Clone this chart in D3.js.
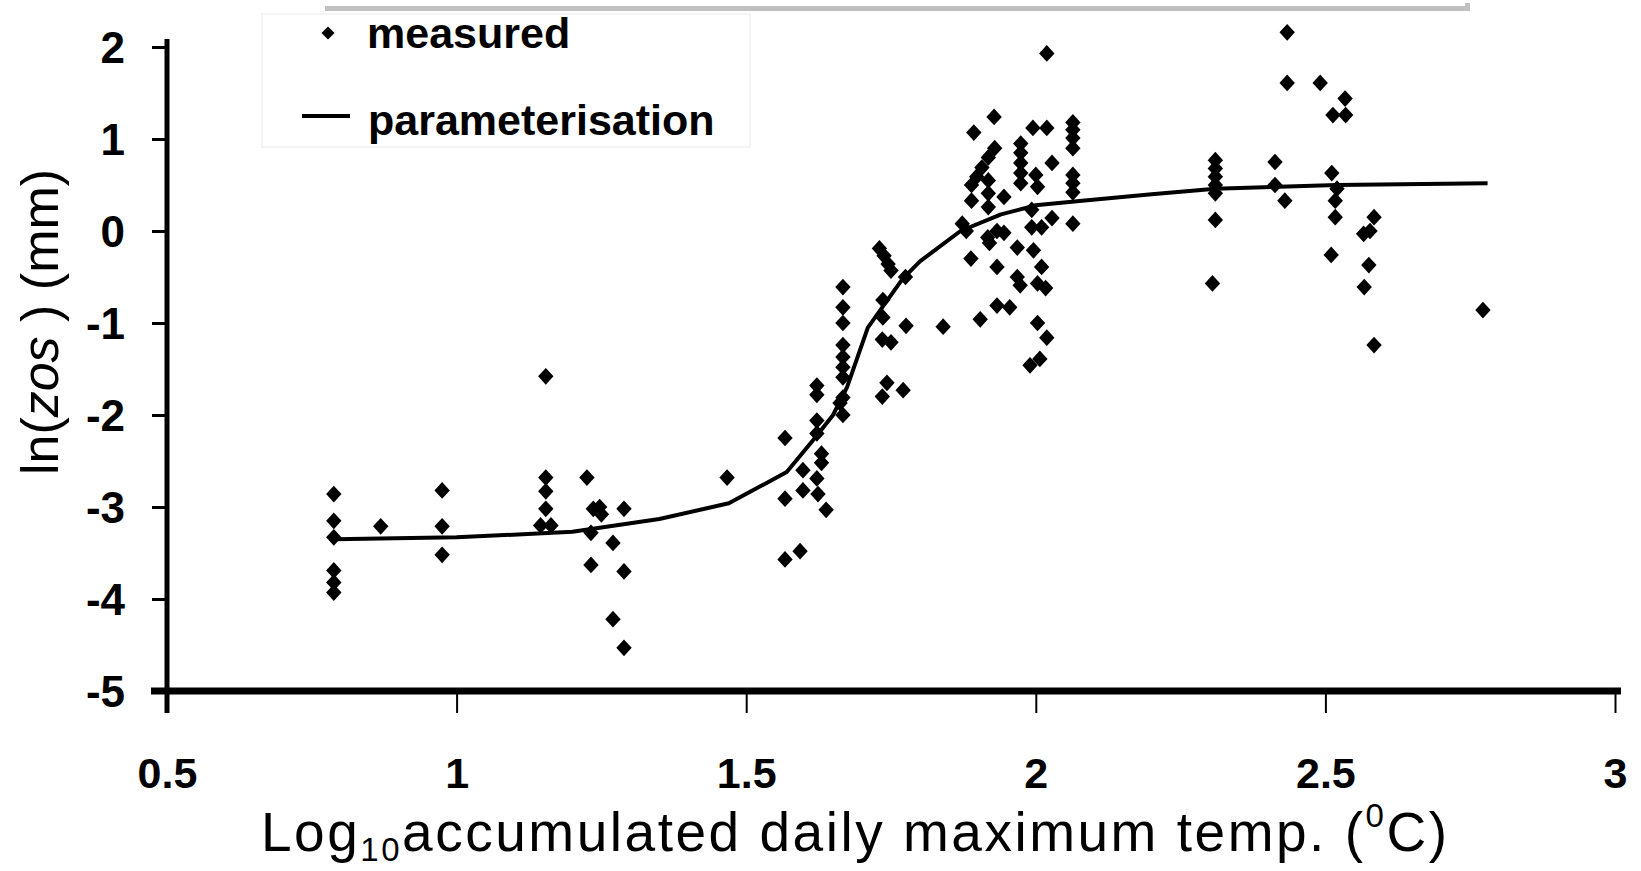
<!DOCTYPE html>
<html><head><meta charset="utf-8">
<script src="https://cdn.jsdelivr.net/npm/d3@7"></script>
<style>
html,body{margin:0;padding:0;background:#fff;}
svg{display:block;}
</style></head>
<body>
<svg id="chart" width="1641" height="871"></svg>
<script>
// ---------- data ----------
const xTicks = [0.5, 1, 1.5, 2, 2.5, 3];
const yTicks = [2, 1, 0, -1, -2, -3, -4, -5];

const measuredX = [
 0.788,0.788,0.788,0.788,0.788,0.788,0.869,0.975,0.975,0.975,
 1.154,1.154,1.154,1.154,1.145,1.163,1.225,1.232,1.232,1.236,1.247,1.25,1.27,1.27,1.289,1.289,1.289,
 1.467,1.567,1.567,1.567,1.593,1.598,1.598,1.622,1.622,1.622,1.622,1.622,1.624,1.63,1.63,1.638,
 1.667,1.667,1.667,1.667,1.667,1.667,1.667,1.667,1.667,1.662,
 1.73,1.738,1.745,1.75,1.736,1.736,1.735,1.75,1.743,1.735,1.771,1.776,1.775,1.84,
 1.873,1.88,1.888,1.904,1.893,1.928,1.929,1.918,1.907,1.898,1.889,1.889,1.918,1.918,1.918,1.945,
 1.917,1.92,1.933,1.945,1.933,1.933,1.955,1.974,1.974,1.974,1.974,1.974,1.968,1.996,1.968,1.973,
 1.995,2.019,2.019,2.028,2.0,2.003,1.993,1.993,2.028,2.01,2.01,2.003,2.017,2.003,2.019,1.99,2.007,
 2.064,2.064,2.064,2.064,2.064,2.064,2.064,2.064,
 2.31,2.31,2.31,2.31,2.31,2.31,2.305,2.413,2.413,2.43,2.434,2.434,2.491,2.534,2.513,2.535,
 2.511,2.52,2.517,2.517,2.51,2.584,2.566,2.577,2.575,2.567,2.584,2.772
];
const measuredY = [
 -2.86,-3.15,-3.33,-3.69,-3.82,-3.93,-3.21,-2.82,-3.21,-3.52,
 -1.58,-2.68,-2.83,-3.02,-3.20,-3.20,-2.68,-3.28,-3.63,-3.02,-3.0,-3.08,-3.39,-4.22,-3.02,-3.70,-4.53,
 -2.68,-2.25,-2.91,-3.57,-3.48,-2.60,-2.82,-1.68,-1.78,-2.06,-2.20,-2.69,-2.86,-2.42,-2.52,-3.03,
 -0.61,-0.83,-1.0,-1.24,-1.37,-1.48,-1.59,-1.81,-2.0,-1.87,
 -0.19,-0.27,-0.36,-0.43,-0.75,-0.94,-1.18,-1.21,-1.65,-1.80,-1.73,-1.03,-0.50,-1.04,
 0.08,0.0,-0.30,-0.96,1.07,1.24,0.90,0.80,0.69,0.59,0.50,0.33,0.55,0.41,0.26,0.37,
 -0.07,-0.13,0.0,-0.02,-0.39,-0.81,-0.83,0.95,0.85,0.74,0.63,0.52,-0.18,-0.21,-0.50,-0.59,
 1.12,1.12,1.93,0.74,0.61,0.48,0.23,0.04,0.14,0.04,-0.39,-0.57,-0.62,-1.0,-1.16,-1.46,-1.39,
 1.18,1.10,1.01,0.90,0.61,0.52,0.42,0.08,
 0.77,0.68,0.59,0.50,0.41,0.12,-0.57,0.75,0.50,0.33,2.16,1.61,1.61,1.44,1.26,1.26,
 0.63,0.46,0.33,0.15,-0.26,0.15,-0.03,0.0,-0.37,-0.61,-1.24,-0.86
];

const curveX = [0.79, 1.0, 1.2, 1.35, 1.47, 1.57, 1.62, 1.65, 1.674, 1.71, 1.77, 1.80, 1.87, 1.94, 2.0, 2.08, 2.2, 2.31, 2.42, 2.52, 2.78];
const curveY = [-3.35, -3.33, -3.27, -3.13, -2.96, -2.62, -2.24, -2.0, -1.70, -1.05, -0.52, -0.33, 0.0, 0.18, 0.28, 0.33, 0.40, 0.46, 0.48, 0.50, 0.52];

const legendLabels = ["measured", "parameterisation"];

// ---------- layout ----------
const FONT = "Liberation Sans, Arial, sans-serif";
const svg = d3.select("#chart");
const x = d3.scaleLinear().domain([0.5, 3]).range([167, 1615]);
const y = d3.scaleLinear().domain([-5, 2]).range([691, 47]);

// grey bar at top
svg.append("rect").attr("x", 325).attr("y", 6).attr("width", 1145).attr("height", 5).attr("fill", "#c0c0c0");
svg.append("rect").attr("x", 1465).attr("y", 3).attr("width", 5).attr("height", 8).attr("fill", "#c0c0c0");

// legend box (very faint)
svg.append("rect").attr("x", 262).attr("y", 14).attr("width", 488).attr("height", 133)
  .attr("fill", "none").attr("stroke", "#f4f4f4").attr("stroke-width", 2);

// ---------- axes ----------
const yAxis = d3.axisLeft(y).tickValues(yTicks).tickSize(15).tickSizeOuter(0).tickPadding(27)
  .tickFormat(d => d < 0 ? "-" + Math.abs(d) : d);
const gy = svg.append("g").attr("transform", `translate(${x(0.5)},0)`).call(yAxis);
gy.select(".domain").remove();
gy.selectAll(".tick line").attr("stroke", "#000").attr("stroke-width", 3);
gy.selectAll(".tick text").attr("font-family", FONT)
  .attr("font-size", 44).attr("font-weight", "bold").attr("fill", "#000").attr("dy", "0.36em");

const xAxis = d3.axisBottom(x).tickValues(xTicks).tickSize(22).tickSizeOuter(0).tickPadding(75)
  .tickFormat(d => String(d));
const gx = svg.append("g").attr("transform", `translate(0,${y(-5)})`).call(xAxis);
gx.select(".domain").remove();
gx.selectAll(".tick line").attr("stroke", "#000").attr("stroke-width", 2);
gx.selectAll(".tick text").attr("font-family", FONT)
  .attr("font-size", 43).attr("font-weight", "bold").attr("fill", "#000").attr("dy", "0");

// axis lines
svg.append("line").attr("x1", x(0.5)).attr("x2", x(0.5)).attr("y1", y(2) - 8).attr("y2", y(-5) + 22)
  .attr("stroke", "#000").attr("stroke-width", 5);
svg.append("line").attr("x1", x(0.5) - 16).attr("x2", x(3) + 6).attr("y1", y(-5)).attr("y2", y(-5))
  .attr("stroke", "#000").attr("stroke-width", 7);

// ---------- curve ----------
const curveData = curveX.map((v, i) => [v, curveY[i]]);
svg.append("path").datum(curveData)
  .attr("d", d3.line().x(d => x(d[0])).y(d => y(d[1])))
  .attr("fill", "none").attr("stroke", "#000").attr("stroke-width", 4).attr("stroke-linejoin", "round");

// ---------- points ----------
const pts = measuredX.map((v, i) => [v, measuredY[i]]);
const diamond = d3.symbol().type(d3.symbolSquare).size(140);
svg.append("g").selectAll("path").data(pts).join("path")
  .attr("d", diamond)
  .attr("transform", d => `translate(${x(d[0])},${y(d[1])}) scale(0.92,1) rotate(45)`)
  .attr("fill", "#000");

// ---------- legend ----------
const lg = svg.append("g");
lg.append("path").attr("d", d3.symbol().type(d3.symbolSquare).size(85))
  .attr("transform", "translate(328,33) rotate(45)").attr("fill", "#000");
lg.append("text").attr("x", 367).attr("y", 48).text(legendLabels[0])
  .attr("font-family", FONT).attr("font-size", 43).attr("font-weight", "bold");
lg.append("line").attr("x1", 302).attr("x2", 350).attr("y1", 116).attr("y2", 116)
  .attr("stroke", "#000").attr("stroke-width", 4);
lg.append("text").attr("x", 368).attr("y", 135).text(legendLabels[1])
  .attr("font-family", FONT).attr("font-size", 43).attr("font-weight", "bold");

// ---------- axis titles ----------
const xt = svg.append("text").attr("x", 261).attr("y", 851).attr("text-anchor", "start")
  .attr("textLength", 1186).attr("lengthAdjust", "spacing")
  .attr("font-family", FONT).attr("font-size", 55).attr("fill", "#000");
xt.append("tspan").text("Log");
xt.append("tspan").attr("font-size", 33).attr("dy", 10).text("10");
xt.append("tspan").attr("dy", -10).text("accumulated daily maximum temp. (");
xt.append("tspan").attr("font-size", 33).attr("dy", -24).text("0");
xt.append("tspan").attr("dy", 24).text("C)");

const yt = svg.append("text").attr("transform", "translate(58,322) rotate(-90)").attr("text-anchor", "middle")
  .attr("font-family", FONT).attr("font-size", 52).attr("fill", "#000");
yt.append("tspan").text("ln(");
yt.append("tspan").attr("font-style", "italic").text("zos");
yt.append("tspan").text(" ) (mm)");
</script>
</body></html>
